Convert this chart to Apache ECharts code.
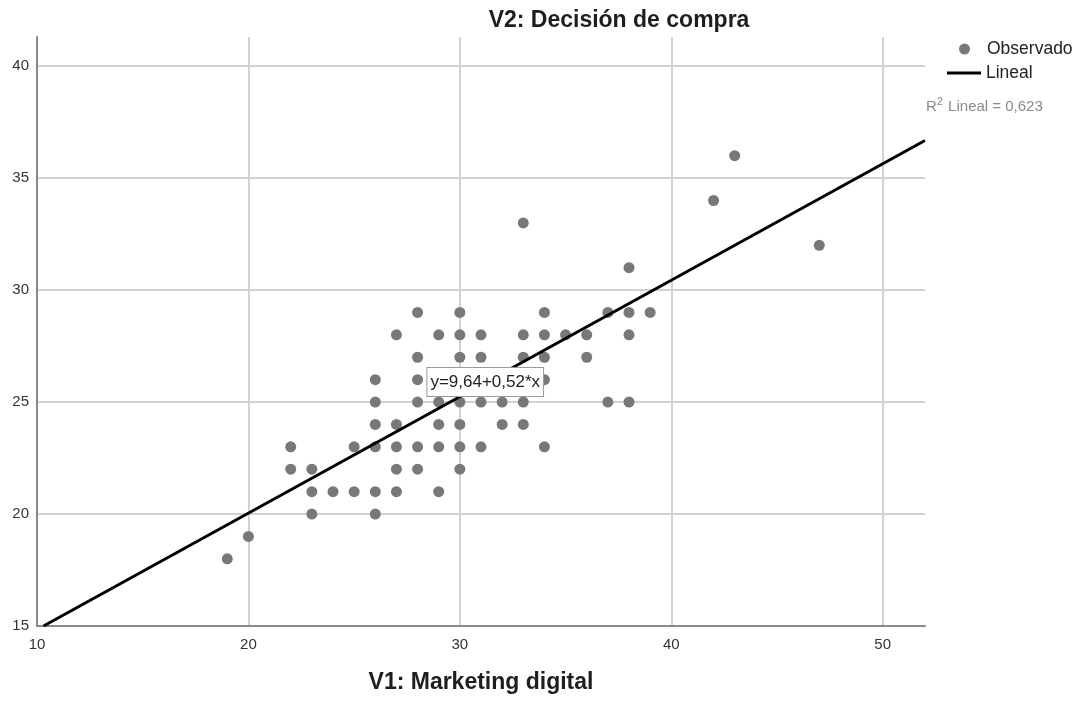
<!DOCTYPE html>
<html>
<head>
<meta charset="utf-8">
<script src="https://cdn.jsdelivr.net/npm/echarts@6/dist/echarts.min.js"></script>
<style>
  html, body { margin: 0; padding: 0; background: #fff; }
  #chart { width: 1086px; height: 702px; }
</style>
</head>
<body>
<div id="chart"></div>
<script>
// Observed pairs: V1 (Marketing digital) and V2 (Decisión de compra)
const v1 = [19, 20, 22, 22, 23, 23, 23, 24, 25, 25,
            26, 26, 26, 26, 26, 26, 27, 27, 27, 27, 27,
            28, 28, 28, 28, 28, 28, 29, 29, 29, 29, 29,
            30, 30, 30, 30, 30, 30, 30, 30, 31, 31, 31, 31,
            32, 32, 33, 33, 33, 33, 33, 34, 34, 34, 34, 34,
            35, 36, 36, 37, 37, 38, 38, 38, 38, 39, 42, 43, 47];
const v2 = [18, 19, 23, 22, 22, 21, 20, 21, 23, 21,
            26, 25, 24, 23, 21, 20, 28, 24, 23, 22, 21,
            29, 27, 26, 25, 23, 22, 28, 25, 24, 23, 21,
            29, 28, 27, 26, 25, 24, 23, 22, 28, 27, 25, 23,
            25, 24, 33, 28, 27, 25, 24, 29, 28, 27, 26, 23,
            28, 28, 27, 29, 25, 31, 29, 28, 25, 29, 34, 36, 32];

// Linear fit
const intercept = 9.64;
const slope = 0.52;
const rSquared = 0.623;

// Axis ranges and ticks
const xRange = [10, 52];
const yRange = [15, 41.3];
const xTickStep = 10;
const yTickStep = 5;

const fmtComma = (v, d) => v.toFixed(d).replace('.', ',');

const points = v1.map((x, i) => [x, v2[i]]);
const xStart = (yRange[0] - intercept) / slope;
const fitLine = [xStart, xRange[1]].map(x => [x, intercept + slope * x]);

const textColor = '#333';
const gridColor = '#d2d2d2';
const axisColor = '#8a8a8a';
const font = 'Arial, "Liberation Sans", sans-serif';

const chart = echarts.init(document.getElementById('chart'));
chart.setOption({
  animation: false,
  backgroundColor: '#fff',
  textStyle: { fontFamily: font },
  title: {
    text: 'V2: Decisión de compra',
    left: 614, top: 4, textAlign: 'center',
    textStyle: { fontSize: 23, fontWeight: 'bold', color: '#1e1e1e', fontFamily: font }
  },
  grid: { left: 37, right: 161, top: 37, bottom: 76, containLabel: false },
  legend: [
    {
      data: [{ name: 'Observado', icon: 'circle' }],
      left: 954, top: 35, itemWidth: 11, itemHeight: 11,
      selectedMode: false,
      textStyle: { fontSize: 17.5, color: '#222', fontFamily: font, padding: [0, 0, 0, 12] }
    },
    {
      data: [{ name: 'Lineal', icon: 'rect' }],
      left: 942, top: 59, itemWidth: 34, itemHeight: 3,
      selectedMode: false,
      textStyle: { fontSize: 17.5, color: '#222', fontFamily: font }
    }
  ],
  xAxis: {
    type: 'value',
    min: xRange[0], max: xRange[1], interval: xTickStep,
    name: 'V1: Marketing digital',
    nameLocation: 'middle', nameGap: 45,
    nameTextStyle: { fontSize: 23, fontWeight: 'bold', color: '#1e1e1e', fontFamily: font },
    axisLine: { show: true, lineStyle: { color: axisColor, width: 2 } },
    axisTick: { show: false },
    axisLabel: { color: textColor, fontSize: 15, margin: 11, showMaxLabel: false, fontFamily: font },
    splitLine: { show: true, showMinLine: false, showMaxLine: false, lineStyle: { color: gridColor, width: 2 } }
  },
  yAxis: {
    type: 'value',
    min: yRange[0], max: yRange[1], interval: yTickStep,
    axisLine: { show: true, lineStyle: { color: axisColor, width: 2 } },
    axisTick: { show: false },
    axisLabel: { color: textColor, fontSize: 15, margin: 8, showMaxLabel: false, fontFamily: font },
    splitLine: { show: true, showMinLine: false, showMaxLine: false, lineStyle: { color: gridColor, width: 2 } }
  },
  series: [
    {
      name: 'Observado',
      type: 'scatter',
      data: points,
      symbol: 'circle',
      symbolSize: 11,
      itemStyle: { color: '#787878', opacity: 1 },
      z: 3
    },
    {
      name: 'Lineal',
      type: 'line',
      data: fitLine,
      showSymbol: false,
      symbol: 'none',
      lineStyle: { color: '#000', width: 3 },
      itemStyle: { color: '#000' },
      z: 4,
      markPoint: {
        symbol: 'rect',
        symbolSize: 1,
        itemStyle: { color: 'transparent' },
        label: {
          show: true,
          position: 'inside',
          formatter: 'y=' + fmtComma(intercept, 2) + '+' + fmtComma(slope, 2) + '*x',
          backgroundColor: '#fff',
          borderColor: '#9a9a9a',
          borderWidth: 1,
          padding: [6, 3, 5, 3],
          color: '#222',
          fontSize: 17,
          fontFamily: font
        },
        data: [{ coord: [31.2, 25.9] }]
      }
    }
  ],
  graphic: [
    {
      type: 'text',
      left: 926, top: 96,
      style: {
        text: '{r|R}{s|2}{r| Lineal = ' + fmtComma(rSquared, 3) + '}',
        rich: {
          r: { fontSize: 15, fill: '#8a8a8a', fontFamily: font, verticalAlign: 'bottom', lineHeight: 18 },
          s: { fontSize: 11, fill: '#8a8a8a', fontFamily: font, verticalAlign: 'top', lineHeight: 18, padding: [0, 1, 7, 0] }
        }
      }
    }
  ]
});
</script>
</body>
</html>
